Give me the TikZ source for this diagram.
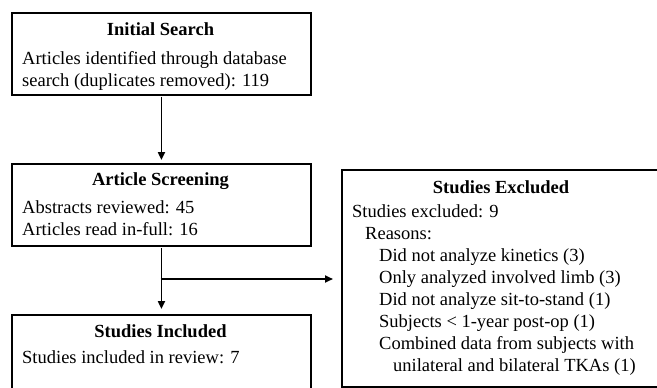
\documentclass[tikz,border=0pt]{standalone}
\usepackage{fontspec}
\setmainfont{Liberation Serif}
\usetikzlibrary{arrows.meta,positioning}
\tikzset{
  box/.style={draw, line width=1.9pt, anchor=north west, inner sep=0pt},
  head/.style={font=\fontsize{18.5}{22}\selectfont\bfseries, anchor=base, inner sep=0pt},
  body/.style={font=\fontsize{18.5}{22}\selectfont, align=left, anchor=base west, inner sep=0pt},
  arr/.style={line width=1.9pt, -{Triangle[length=8pt,width=7pt]}}
}
\begin{document}
\begin{tikzpicture}[x=1pt,y=1pt]
		% Page size and clipping
		\useasboundingbox (0,0) rectangle (657,-388);
		\clip (0,0) rectangle (657,-388);
		
		% Boxes
		\node[box, minimum width=299pt, minimum height=82pt] (search) at (11,-12) {};
		\node[box, minimum width=299pt, minimum height=82pt] (screen) at (11,-163) {};
		\node[box, minimum width=299pt, minimum height=110pt] (included) at (11,-314) {};
		\node[box, minimum width=340pt, minimum height=217pt] (excluded) at (341,-169) {};
		
		% Titles
		\node[head] (searchhead) at (160.5,-35) {Initial Search};
		\node[head] (screenhead) at (160.5,-185) {Article Screening};
		\node[head] (includedhead) at (160.5,-337) {Studies Included};
		\node[head] (excludedhead) at (501,-193) {Studies Excluded};
		
		% Body texts (base = last line)
		\node[body] (searchtext) at (22,-86) {Articles identified through database\\search (duplicates removed): 119};
		\node[body] (screentext) at (22,-235) {Abstracts reviewed: 45\\Articles read in-full: 16};
		\node[body] (includedtext) at (22,-363) {Studies included in review: 7};
		\node[body] (excludedtext) at (352,-371) {Studies excluded: 9\\
			\hspace*{13pt}Reasons:\\
			\hspace*{27pt}Did not analyze kinetics (3)\\
			\hspace*{27pt}Only analyzed involved limb (3)\\
			\hspace*{27pt}Did not analyze sit-to-stand (1)\\
			\hspace*{27pt}Subjects < 1-year post-op (1)\\
			\hspace*{27pt}Combined data from subjects with\\
			\hspace*{41pt}unilateral and bilateral TKAs (1)};
		
		% Arrows
		\coordinate (split) at (160.5,-279);
		\draw[arr, shorten >=3pt, shorten <=1pt] (search.south) -- (screen.north);
		\draw[arr, shorten >=5pt, shorten <=1pt] (screen.south) -- (included.north);
		\draw[arr, shorten >=8pt] (split) -- (split -| excluded.west);
		
	\end{tikzpicture}
\end{document}
